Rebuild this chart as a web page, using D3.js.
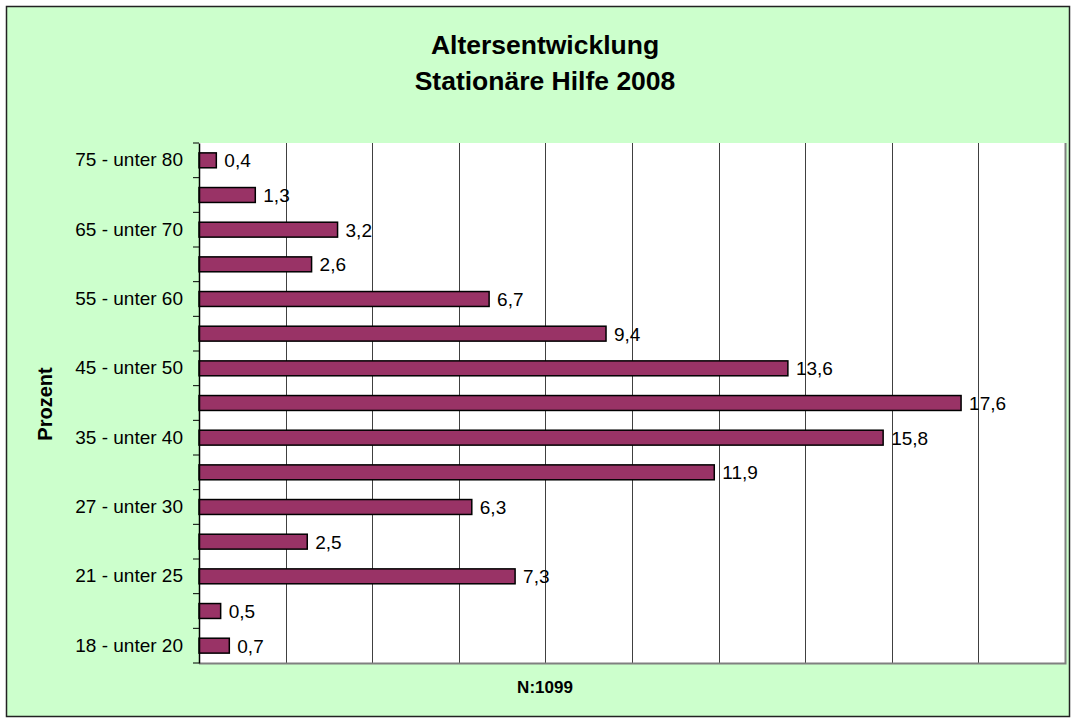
<!DOCTYPE html>
<html>
<head>
<meta charset="utf-8">
<script src="https://cdn.jsdelivr.net/npm/d3@7"></script>
<style>
  body { margin: 0; background: #fff; }
  svg { display: block; font-family: "Liberation Sans", Arial, sans-serif; }
</style>
</head>
<body>
<div id="chart"></div>
<script>
// age groups, bottom to top; only every other one gets a visible label
const categories = [
  "18 - unter 20", "20 - unter 21", "21 - unter 25", "25 - unter 27",
  "27 - unter 30", "30 - unter 35", "35 - unter 40", "40 - unter 45",
  "45 - unter 50", "50 - unter 55", "55 - unter 60", "60 - unter 65",
  "65 - unter 70", "70 - unter 75", "75 - unter 80"
];
const values = [0.7, 0.5, 7.3, 2.5, 6.3, 11.9, 15.8, 17.6, 13.6, 9.4, 6.7, 2.6, 3.2, 1.3, 0.4];
const xTicks = [0, 2, 4, 6, 8, 10, 12, 14, 16, 18, 20];
const titleLines = ["Altersentwicklung", "Stationäre Hilfe 2008"];

const W = 1072, H = 719;
const plot = { left: 199, right: 1065, top: 143, bottom: 663 };

const svg = d3.select("#chart").append("svg")
    .attr("width", W)
    .attr("height", H);

// chart area background + border
svg.append("rect")
    .attr("x", 6.5).attr("y", 6.5)
    .attr("width", W - 9).attr("height", H - 9)
    .attr("fill", "#ccffcc")
    .attr("stroke", "#222")
    .attr("stroke-width", 1.5);

const x = d3.scaleLinear()
    .domain([0, 20])
    .range([plot.left, plot.right]);

const y = d3.scaleBand()
    .domain(categories.slice().reverse())
    .range([plot.top, plot.bottom])
    .paddingInner(0.57)
    .paddingOuter(0.285);

// plot area
svg.append("rect")
    .attr("x", plot.left).attr("y", plot.top)
    .attr("width", plot.right - plot.left)
    .attr("height", plot.bottom - plot.top)
    .attr("fill", "#fff");

// vertical gridlines
svg.append("g")
    .selectAll("line")
    .data(xTicks.slice(1))
    .join("line")
    .attr("x1", d => Math.round(x(d)) + 0.5)
    .attr("x2", d => Math.round(x(d)) + 0.5)
    .attr("y1", plot.top)
    .attr("y2", plot.bottom)
    .attr("stroke", "#404040")
    .attr("stroke-width", 1);

// right and bottom edges of plot (gray)
svg.append("path")
    .attr("d", `M${plot.right + 0.5},${plot.top}V${plot.bottom + 0.5}H${plot.left}`)
    .attr("fill", "none")
    .attr("stroke", "#808080")
    .attr("stroke-width", 2);

const rows = categories.map((c, i) => ({ cat: c, val: values[i] }));

// bars
svg.append("g")
    .selectAll("rect")
    .data(rows)
    .join("rect")
    .attr("x", x(0))
    .attr("y", d => y(d.cat))
    .attr("width", d => x(d.val) - x(0))
    .attr("height", y.bandwidth())
    .attr("fill", "#993366")
    .attr("stroke", "#000")
    .attr("stroke-width", 1.5);

// value labels
svg.append("g")
    .selectAll("text")
    .data(rows)
    .join("text")
    .attr("x", d => x(d.val) + 8)
    .attr("y", d => y(d.cat) + y.bandwidth() / 2)
    .attr("dy", "0.36em")
    .attr("font-size", 19)
    .attr("fill", "#000")
    .text(d => d3.format(".1f")(d.val).replace(".", ","));

// category axis (left)
const yAxis = d3.axisLeft(y)
    .tickSize(0)
    .tickPadding(16)
    .tickFormat((d, i) => (categories.length - 1 - i) % 2 === 0 ? d : "");

const yg = svg.append("g")
    .attr("transform", `translate(${plot.left},0)`)
    .call(yAxis);
yg.select(".domain").attr("stroke", "#000").attr("stroke-width", 1.5);
yg.selectAll("text")
    .attr("font-size", 19)
    .attr("fill", "#000")
    .attr("font-family", "Liberation Sans, Arial, sans-serif");

// tick marks at band boundaries
const step = y.step();
svg.append("g")
    .selectAll("line")
    .data(d3.range(categories.length + 1))
    .join("line")
    .attr("x1", plot.left - 6)
    .attr("x2", plot.left)
    .attr("y1", i => plot.top + i * step)
    .attr("y2", i => plot.top + i * step)
    .attr("stroke", "#000")
    .attr("stroke-width", 1);

// title
svg.append("text")
    .attr("text-anchor", "middle")
    .attr("font-weight", "bold")
    .attr("font-size", 26.5)
    .selectAll("tspan")
    .data(titleLines)
    .join("tspan")
    .attr("x", 545)
    .attr("y", (d, i) => 54 + i * 36)
    .text(d => d);

// axis titles
svg.append("text")
    .attr("transform", "translate(52,404) rotate(-90)")
    .attr("text-anchor", "middle")
    .attr("font-weight", "bold")
    .attr("font-size", 20)
    .text("Prozent");

svg.append("text")
    .attr("x", 545)
    .attr("y", 693)
    .attr("text-anchor", "middle")
    .attr("font-weight", "bold")
    .attr("font-size", 17)
    .text("N:1099");
</script>
</body>
</html>
